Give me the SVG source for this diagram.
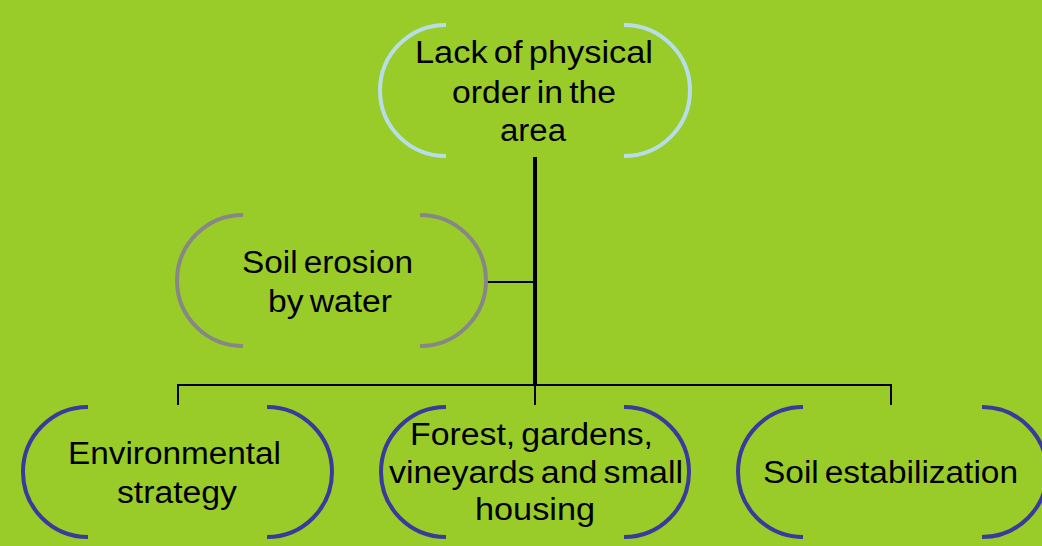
<svg xmlns="http://www.w3.org/2000/svg" width="1042" height="546" viewBox="0 0 1042 546">
<style>
.bg{fill:#99CC28}
.br{fill:none;stroke-width:4}
.top{stroke:#B7DEE8}
.gray{stroke:#878787}
.blue{stroke:#3A3A9C}
.t{font-family:"Liberation Sans",Arial,sans-serif;font-size:31px;word-spacing:-3px;fill:#000}
.ln{stroke:#000;fill:none}
</style>
<rect class="bg" x="0" y="0" width="1042" height="546"/>
<g id="connectors">
<line class="ln" x1="535" y1="157" x2="535" y2="386" stroke-width="4"/>
<line class="ln" x1="486" y1="282" x2="535" y2="282" stroke-width="2"/>
<path class="ln" d="M178,405 V385 H891 V405" stroke-width="2"/>
<line class="ln" x1="535" y1="385" x2="535" y2="405" stroke-width="2"/>
</g>
<g id="node-lack">
<path class="br top" d="M446,25 A66,65.5 0 0 0 446,156"/>
<path class="br top" d="M624,25 A66,65.5 0 0 1 624,156"/>
<text class="t" x="415" y="63" textLength="238" lengthAdjust="spacingAndGlyphs">Lack of physical</text>
<text class="t" x="452" y="103" textLength="164" lengthAdjust="spacingAndGlyphs">order in the</text>
<text class="t" x="500" y="141" textLength="66" lengthAdjust="spacingAndGlyphs">area</text>
</g>
<g id="node-erosion">
<path class="br gray" d="M243,215 A66,65.5 0 0 0 243,346"/>
<path class="br gray" d="M420,215 A66,65.5 0 0 1 420,346"/>
<text class="t" x="242" y="273" textLength="171" lengthAdjust="spacingAndGlyphs">Soil erosion</text>
<text class="t" x="268" y="312" textLength="124" lengthAdjust="spacingAndGlyphs">by water</text>
</g>
<g id="node-env">
<path class="br blue" d="M88,407 A65,65 0 0 0 88,537"/>
<path class="br blue" d="M267,407 A65,65 0 0 1 267,537"/>
<text class="t" x="68" y="464" textLength="213" lengthAdjust="spacingAndGlyphs">Environmental</text>
<text class="t" x="117" y="503" textLength="120" lengthAdjust="spacingAndGlyphs">strategy</text>
</g>
<g id="node-forest">
<path class="br blue" d="M446,407 A65,65 0 0 0 446,537"/>
<path class="br blue" d="M624,407 A65,65 0 0 1 624,537"/>
<text class="t" x="410" y="445" textLength="243" lengthAdjust="spacingAndGlyphs">Forest, gardens,</text>
<text class="t" x="389" y="483" textLength="294" lengthAdjust="spacingAndGlyphs">vineyards and small</text>
<text class="t" x="475" y="520" textLength="120" lengthAdjust="spacingAndGlyphs">housing</text>
</g>
<g id="node-soil">
<path class="br blue" d="M803,407 A65,65 0 0 0 803,537"/>
<path class="br blue" d="M982,407 A65,65 0 0 1 982,537"/>
<text class="t" x="763" y="483" textLength="255" lengthAdjust="spacingAndGlyphs">Soil estabilization</text>
</g>
</svg>
